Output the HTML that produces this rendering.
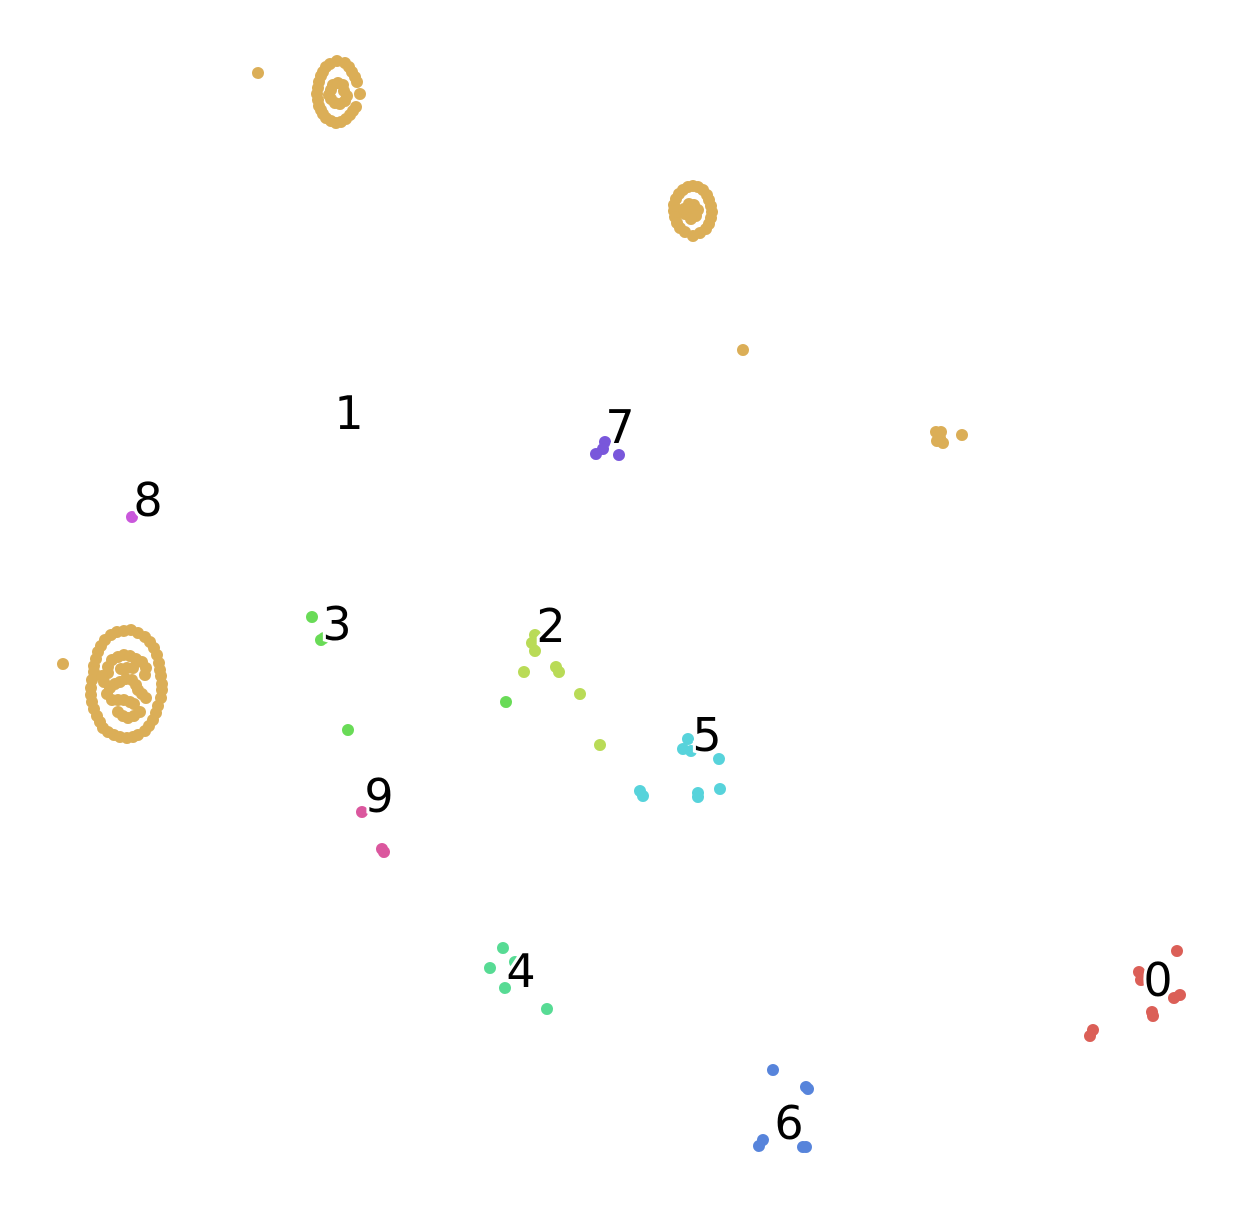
<!DOCTYPE html>
<html><head><meta charset="utf-8"><style>
html,body{margin:0;padding:0;background:#fff;}
svg{display:block;}
text{font-family:"DejaVu Sans","Liberation Sans",sans-serif;font-size:46px;fill:#000;stroke:#fff;stroke-width:6px;paint-order:stroke;}
</style></head><body>
<svg id="chart" width="1242" height="1210" viewBox="0 0 1242 1210"></svg>
<script>
const classNames = ["0","1","2","3","4","5","6","7","8","9"];
const classColors = ["#db5f57","#dbae57","#b9db57","#69db57","#57db94","#57d3db","#5784db","#7957db","#c957db","#db579e"];
const pts0 = [[1177,951],[1139,972],[1141,980],[1152,1012],[1153,1016],[1174,998],[1180,995],[1093,1030],[1090,1036]];
const pts1 = [[258,73],
[337,61],[330,64],[345,63],[326,67],[349,67],[323,72],[352,72],[321,76],[355,77],[319,82],[357,82],[318,88],[317,94],[318,100],[319,106],[321,110],[323,114],[326,118],[331,121],[336,123],[341,122],[346,119],[350,115],[353,111],[356,107],
[333,85],[338,83],[343,85],[331,90],[329,95],[331,99],[335,103],[340,104],[345,101],[347,96],[344,91],[360,94],
[693,186],[688,187],[698,187],[683,190],[703,190],[679,194],[707,195],[676,199],[709,200],[674,205],[711,206],[674,211],[712,212],[675,217],[711,218],[677,223],[709,224],[680,228],[706,229],[685,232],[700,233],[693,236],
[689,204],[694,205],[698,210],[690,212],[696,216],[691,219],[685,214],[684,209],
[117,632],[124,631],[131,630],[138,633],[145,637],[111,635],[105,640],[101,646],[98,652],[150,642],[154,648],[157,655],[159,663],[96,659],[94,666],[94,672],[160,670],[161,676],[92,680],[91,688],[162,684],[162,690],[91,695],[92,702],[161,698],[158,706],[94,709],[97,716],[156,713],[153,720],[100,722],[103,728],[149,726],[145,731],[108,732],[114,735],[120,737],[127,738],[133,737],[138,735],
[112,660],[118,657],[124,655],[130,656],[136,659],[142,662],[108,667],[108,673],[146,668],[145,675],[110,688],[115,684],[120,682],[126,679],[132,680],[136,685],[138,690],[142,694],[146,698],[107,694],[112,700],[118,700],[124,700],[130,702],[134,704],[118,712],[123,716],[128,718],[134,716],[140,712],[104,682],[127,668],[121,669],[133,668],[102,676],[63,664],
[940,438],[936,432],[941,432],[943,443],[937,441],[962,435],[743,350]];
const pts2 = [[535,635],[532,643],[535,651],[524,672],[556,667],[559,672],[580,694],[600,745]];
const pts3 = [[312,617],[321,640],[324,638],[348,730],[506,702]];
const pts4 = [[503,948],[490,968],[505,988],[547,1009],[515,962]];
const pts5 = [[688,739],[683,749],[691,751],[719,759],[640,791],[643,796],[698,793],[698,797],[720,789]];
const pts6 = [[773,1070],[806,1087],[808,1089],[763,1140],[759,1146],[803,1147],[806,1147]];
const pts7 = [[605,442],[603,449],[596,454],[619,455]];
const pts8 = [[132,517]];
const pts9 = [[362,812],[382,849],[384,852]];
const labelPos = [[1158,980],[349,413],[551,626],[337,624],[521,971],[707,735],[789,1123],[620,427],[148,500],[379,796]];
const allPts = [pts0,pts1,pts2,pts3,pts4,pts5,pts6,pts7,pts8,pts9];

const W=1242,H=1210;
const xDomain=[0,1242], yDomain=[0,1210];
const xs = v => (v-xDomain[0])/(xDomain[1]-xDomain[0])*W;
const ys = v => (v-yDomain[0])/(yDomain[1]-yDomain[0])*H;
const NS="http://www.w3.org/2000/svg";
const svg=document.getElementById('chart');
allPts.forEach((arr,ci)=>{
  const g=document.createElementNS(NS,'g');
  
  
  arr.forEach(p=>{
    const c=document.createElementNS(NS,'circle');
    
    
    c.setAttribute('cx',xs(p[0]));c.setAttribute('cy',ys(p[1]));c.setAttribute('r',6);
    c.setAttribute('fill',classColors[ci]);
    g.appendChild(c);
  });
  svg.appendChild(g);
});
labelPos.forEach((p,ci)=>{
  const t=document.createElementNS(NS,'text');
  
  
  t.setAttribute('x',xs(p[0]));t.setAttribute('y',ys(p[1])+16);
  t.setAttribute('text-anchor','middle');
  t.textContent=classNames[ci];
  svg.appendChild(t);
});
</script>
</body></html>
